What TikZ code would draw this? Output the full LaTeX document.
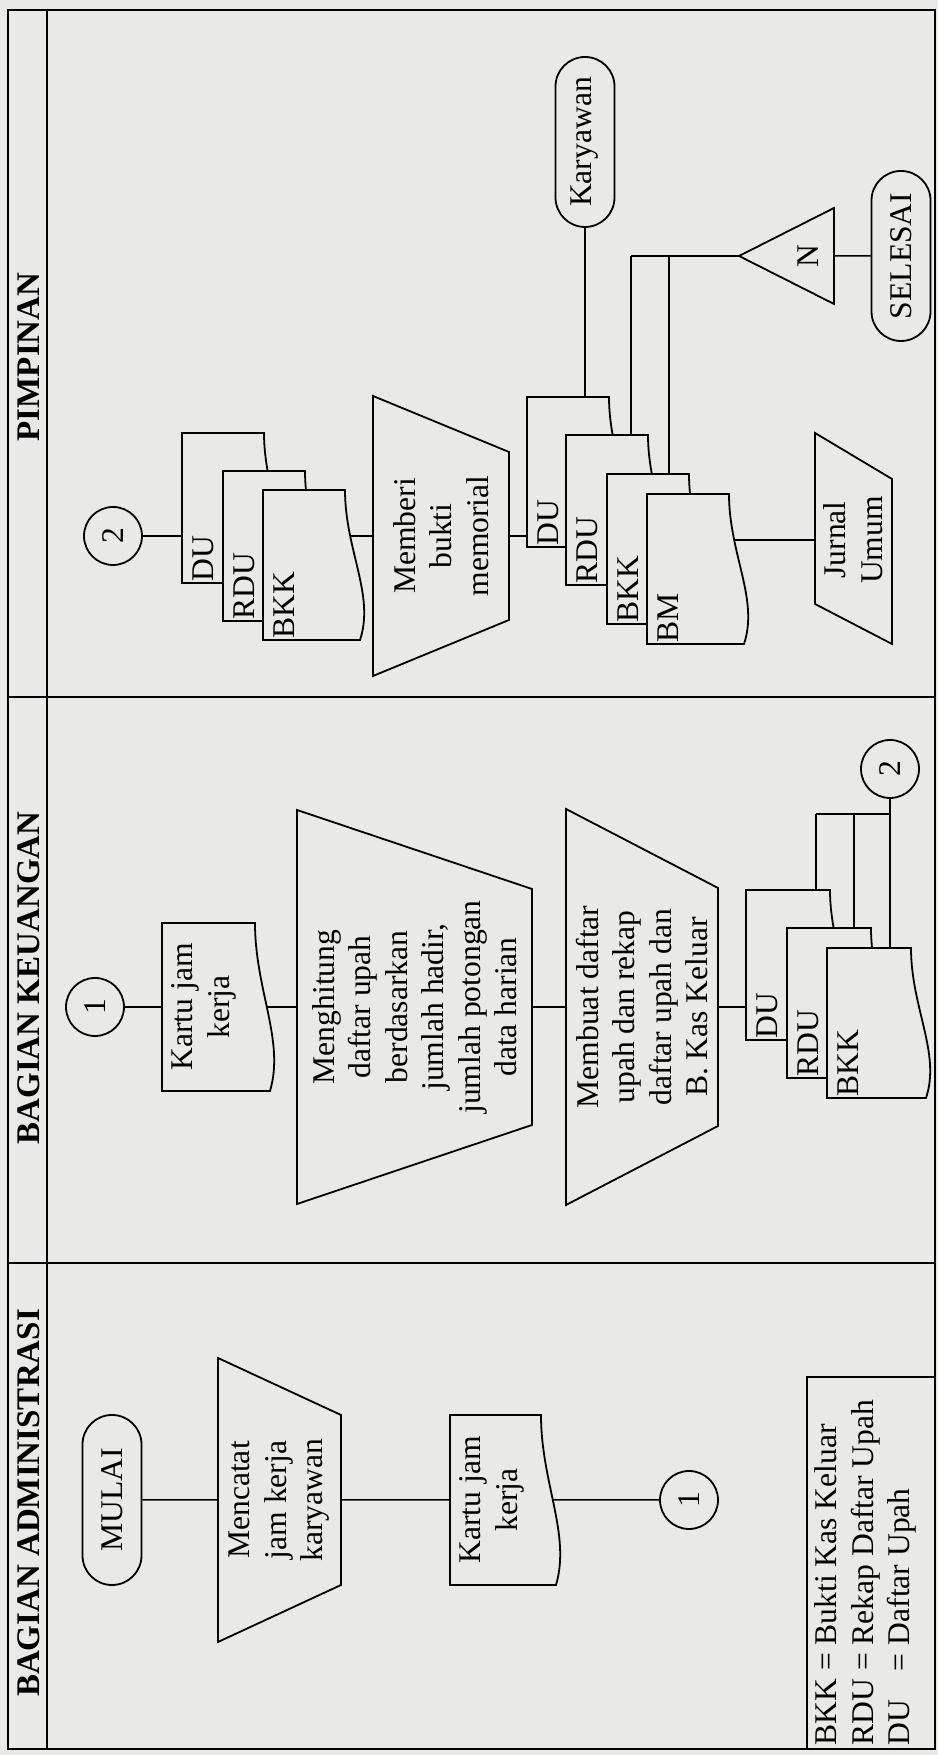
\documentclass[tikz,border=0pt]{standalone}
\usepackage{fontspec}
\setmainfont{Liberation Serif}
\usetikzlibrary{shapes.misc, calc}
\definecolor{paper}{RGB}{233,233,231}
\pgfdeclarelayer{paperlayer}
\pgfdeclarelayer{linelayer}
\pgfsetlayers{paperlayer,linelayer,main}

% document shape: name, left, top, width, height
\newcommand{\dokumen}[5]{%
  \draw[garis, fill=paper] (#2,#3) -- ({#2+#4},#3) -- ({#2+#4},{#3-#5+11})
    .. controls ({#2+0.6*#4},{#3-#5+11}) and ({#2+0.3*#4},{#3-#5-19}) .. (#2,{#3-#5-4}) -- cycle;
  \node[docarea, minimum width={0.5*#4}, minimum height={0.5*#5}] (#1) at (#2,#3) {};}

% manual operation: name, centre, top, half top width, half bottom width, height, text
\newcommand{\manop}[7]{%
  \draw[garis, fill=paper] ({#2-#4},#3) -- ({#2+#4},#3) -- ({#2+#5},{#3-#6}) -- ({#2-#5},{#3-#6}) -- cycle;
  \node[proc] (#1) at (#2,{#3-0.5*#6}) {#7};}

\begin{document}
\begin{tikzpicture}[x=0.5pt, y=0.5pt,
    every node/.style={font=\fontsize{15.8}{18.25}\selectfont},
    garis/.style={line width=0.9pt},
    flow/.style={line width=0.75pt},
    lane/.style={line width=0.6pt},
    head/.style={font=\fontsize{16.5}{18}\selectfont\bfseries},
    term/.style={rounded rectangle, draw, garis, fill=paper, minimum width=85pt, minimum height=29.5pt, inner sep=0pt},
    conn/.style={circle, draw, garis, fill=paper, minimum size=29pt, inner sep=0pt},
    proc/.style={align=center, inner sep=0pt},
    docarea/.style={rectangle, anchor=north west, inner sep=0pt, outer sep=0pt},
    doclabel/.style={anchor=base west, inner sep=0pt}]
\begin{scope}[rotate=90, transform shape]
    \useasboundingbox (0,0) rectangle (1755,-938);
    \begin{pgfonlayer}{paperlayer}
        \fill[paper] (0,0) rectangle (1755,-938);
    \end{pgfonlayer}

    % Lanes
    \draw[lane] (6,-8) rectangle (1745,-935);
    \draw[lane] (6,-47) -- (1745,-47);
    \draw[lane] (492,-8) -- (492,-935);
    \draw[lane] (1058,-8) -- (1058,-935);
    \node[head] (hadm) at (252,-29) {BAGIAN ADMINISTRASI};
    \node[head] (hkeu) at (777,-29) {BAGIAN KEUANGAN};
    \node[head] (hpim) at (1398,-29) {PIMPINAN};

    % Draw nodes: bagian administrasi
    \node[term] (mulai) at (255,-112) {MULAI};
    \manop{catat}{255}{-218}{142}{85}{123}{Mencatat\\jam kerja\\karyawan}
    \dokumen{kartu1}{170}{-450}{170}{102}
    \node[conn] (c1a) at (255,-689) {1};
    \draw[garis] (6,-807) rectangle (378,-935);
    \node[anchor=north west, inner sep=0pt] (ket) at (9,-811)
        {\begin{tabular}{@{}l@{ = }l@{}}BKK & Bukti Kas Keluar\\ RDU & Rekap Daftar Upah\\ DU & Daftar Upah\end{tabular}};

    % Draw nodes: bagian keuangan
    \node[conn] (c1b) at (748,-95) {1};
    \dokumen{kartu2}{664}{-162}{168}{104}
    \manop{hitung}{748}{-297}{197}{118}{235}{Menghitung\\daftar upah\\berdasarkan\\jumlah hadir,\\jumlah potongan\\data harian}
    \manop{buat}{748}{-566}{198}{119}{152}{Membuat daftar\\upah dan rekap\\daftar upah dan\\B. Kas Keluar}
    \dokumen{du1}{715}{-746}{150}{95}
    \dokumen{rdu1}{677}{-787}{150}{95}
    \dokumen{bkk1}{657}{-827}{150}{95}
    \node[conn] (c2a) at (986,-890) {2};
    \coordinate (k1) at (941,-816);
    \coordinate (k2) at (941,-854);

    % Draw nodes: pimpinan
    \node[conn] (c2b) at (1219,-113) {2};
    \dokumen{du2}{1172}{-182}{150}{93}
    \dokumen{rdu2}{1134}{-223}{150}{93}
    \dokumen{bkk2}{1115}{-263}{150}{93}
    \manop{memberi}{1219}{-373}{140}{84}{136}{Memberi\\bukti\\memorial}
    \dokumen{du3}{1208}{-527}{150}{93}
    \dokumen{rdu3}{1170}{-566}{150}{93}
    \dokumen{bkk3}{1131}{-607}{150}{93}
    \dokumen{bm3}{1111}{-647}{150}{93}
    \node[term] (karyawan) at (1613,-585) {Karyawan};
    \draw[garis, fill=paper] (1499,-739) -- (1547,-834) -- (1451,-834) -- cycle;
    \node (arsip) at (1499,-808) {N};
    \node[term] (selesai) at (1499,-901) {SELESAI};
    \draw[garis, fill=paper] (1151,-815) -- (1322,-815) -- (1276,-892) -- (1111,-892) -- cycle;
    \node[proc] (jurnal) at (1215,-853) {Jurnal\\Umum};
    \coordinate (t1) at (1499,-631);
    \coordinate (t2) at (1499,-669);

    % Labels
    \foreach \nm/\lbl in {du1/DU, rdu1/RDU, bkk1/BKK, du2/DU, rdu2/RDU, bkk2/BKK, du3/DU, rdu3/RDU, bkk3/BKK, bm3/BM}
        \node[doclabel] (\nm-l) at ($(\nm.north west)+(1,-31)$) {\lbl};
    \node[proc] (kartu1-t) at ($(kartu1.north)+(0,-42)$) {Kartu jam\\kerja};
    \node[proc] (kartu2-t) at ($(kartu2.north)+(0,-42)$) {Kartu jam\\kerja};

    % Draw connections
    \begin{pgfonlayer}{linelayer}
        \draw[flow] (mulai) -- (catat) -- (kartu1) -- (c1a);
        \draw[flow] (c1b) -- (kartu2) -- (hitung) -- (buat) -- (buat |- du1.center);
        \draw[flow] (c2a) -- (c2a -| bkk1.east);
        \draw[flow] (k1) -- (k1 -| du1.east);
        \draw[flow] (k2) -- (k2 -| rdu1.east);
        \draw[flow] (k1) -- (k1 |- c2a);
        \draw[flow] (c2b) -- (c2b |- du2.center);
        \draw[flow] (bkk2.center -| memberi) -- (memberi);
        \draw[flow] (memberi) -- (memberi |- du3.center);
        \draw[flow] (karyawan) -- (karyawan -| du3.east);
        \draw[flow] (t1) -- (t1 -| rdu3.east);
        \draw[flow] (t2) -- (t2 -| bkk3.east);
        \draw[flow] (t1) -- (arsip);
        \draw[flow] (arsip) -- (selesai);
        \draw[flow] (bm3.center -| jurnal) -- (jurnal);
    \end{pgfonlayer}
\end{scope}
\end{tikzpicture}
\end{document}
